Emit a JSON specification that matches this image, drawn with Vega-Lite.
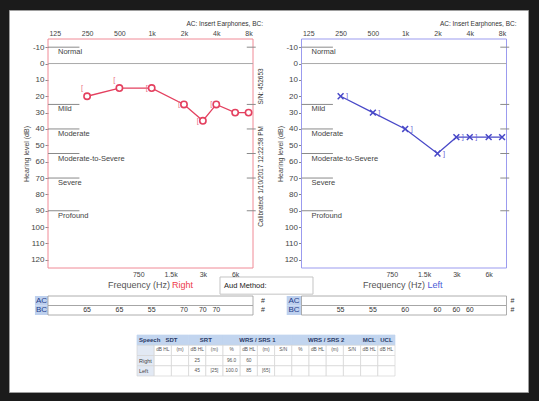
{
  "$schema": "https://vega.github.io/schema/vega-lite/v6.json",
  "width": 519,
  "height": 382,
  "autosize": "none",
  "padding": {"left": 9, "top": 10, "right": 11, "bottom": 9},
  "background": "#1b1b1b",
  "config": {
    "font": "Liberation Sans",
    "view": {"fill": "white", "stroke": "#9e9e9e", "strokeWidth": 1},
    "axis": {
      "grid": false, "domain": false, "labelColor": "#444", "labelFontSize": 7.5,
      "labelOverlap": false, "labelFlush": false, "labelBound": false,
      "titleFontWeight": "normal", "titleColor": "#444", "titleFontSize": 7, "tickColor": "#888"
    }
  },
  "datasets": {
    "ac": [
      {"ear": "Right", "freq": 250, "db": 20}, {"ear": "Right", "freq": 500, "db": 15},
      {"ear": "Right", "freq": 1000, "db": 15}, {"ear": "Right", "freq": 2000, "db": 25},
      {"ear": "Right", "freq": 3000, "db": 35}, {"ear": "Right", "freq": 4000, "db": 25},
      {"ear": "Right", "freq": 6000, "db": 30}, {"ear": "Right", "freq": 8000, "db": 30},
      {"ear": "Left", "freq": 250, "db": 20}, {"ear": "Left", "freq": 500, "db": 30},
      {"ear": "Left", "freq": 1000, "db": 40}, {"ear": "Left", "freq": 2000, "db": 55},
      {"ear": "Left", "freq": 3000, "db": 45}, {"ear": "Left", "freq": 4000, "db": 45},
      {"ear": "Left", "freq": 6000, "db": 45}, {"ear": "Left", "freq": 8000, "db": 45}
    ],
    "bc": [
      {"ear": "Right", "freq": 250, "db": 15}, {"ear": "Right", "freq": 500, "db": 10},
      {"ear": "Right", "freq": 1000, "db": 15}, {"ear": "Right", "freq": 2000, "db": 25},
      {"ear": "Right", "freq": 3000, "db": 35}, {"ear": "Right", "freq": 4000, "db": 25},
      {"ear": "Left", "freq": 250, "db": 20}, {"ear": "Left", "freq": 500, "db": 30},
      {"ear": "Left", "freq": 1000, "db": 40}, {"ear": "Left", "freq": 2000, "db": 55},
      {"ear": "Left", "freq": 3000, "db": 45}, {"ear": "Left", "freq": 4000, "db": 45}
    ],
    "mask": [
      {"ear": "Right", "freq": 250, "level": 65}, {"ear": "Right", "freq": 500, "level": 65},
      {"ear": "Right", "freq": 1000, "level": 55}, {"ear": "Right", "freq": 2000, "level": 70},
      {"ear": "Right", "freq": 3000, "level": 70}, {"ear": "Right", "freq": 4000, "level": 70},
      {"ear": "Left", "freq": 250, "level": 55}, {"ear": "Left", "freq": 500, "level": 55},
      {"ear": "Left", "freq": 1000, "level": 60}, {"ear": "Left", "freq": 2000, "level": 60},
      {"ear": "Left", "freq": 3000, "level": 60}, {"ear": "Left", "freq": 4000, "level": 60}
    ],
    "cat": [
      {"db": -10, "name": "Normal"}, {"db": 25, "name": "Mild"}, {"db": 40, "name": "Moderate"},
      {"db": 55, "name": "Moderate-to-Severe"}, {"db": 70, "name": "Severe"}, {"db": 90, "name": "Profound"}
    ],
    "rows": [{"row": "AC"}, {"row": "BC"}],
    "table": [
      {"row": "Head", "Speech": "", "SDT_db": "", "SDT_m": "", "SRT_db": "", "SRT_m": "", "W1_pct": "", "W1_db": "", "W1_m": "", "W1_sn": "", "W2_pct": "", "W2_db": "", "W2_m": "", "W2_sn": "", "MCL": "", "UCL": ""},
      {"row": "Sub", "Speech": "", "SDT_db": "dB HL", "SDT_m": "(m)", "SRT_db": "dB HL", "SRT_m": "(m)", "W1_pct": "%", "W1_db": "dB HL", "W1_m": "(m)", "W1_sn": "S/N", "W2_pct": "%", "W2_db": "dB HL", "W2_m": "(m)", "W2_sn": "S/N", "MCL": "dB HL", "UCL": "dB HL"},
      {"row": "Right", "Speech": "Right", "SDT_db": "", "SDT_m": "", "SRT_db": "25", "SRT_m": "", "W1_pct": "96.0", "W1_db": "60", "W1_m": "", "W1_sn": "", "W2_pct": "", "W2_db": "", "W2_m": "", "W2_sn": "", "MCL": "", "UCL": ""},
      {"row": "Left", "Speech": "Left", "SDT_db": "", "SDT_m": "", "SRT_db": "45", "SRT_m": "[25]", "W1_pct": "100.0", "W1_db": "85", "W1_m": "[65]", "W1_sn": "", "W2_pct": "", "W2_db": "", "W2_m": "", "W2_sn": "", "MCL": "", "UCL": ""}
    ],
    "heads": [
      {"col": "SDT_m", "label": "SDT"}, {"col": "SRT_m", "label": "SRT"},
      {"col": "W1_m", "label": "WRS / SRS 1"}, {"col": "W2_m", "label": "WRS / SRS 2"},
      {"col": "MCL", "label": "MCL"}, {"col": "UCL", "label": "UCL"}, {"col": "Speech", "label": "Speech"}
    ]
  },
  "resolve": {
    "scale": {"x": "independent", "y": "independent"},
    "axis": {"x": "independent", "y": "independent"}
  },
  "layer": [
    {
      "data": {"values": [{}]},
      "mark": {"type": "rect", "fill": "transparent", "stroke": "#f08a96", "strokeWidth": 1},
      "encoding": {
        "x": {"datum": 108, "type": "quantitative", "scale": {"type": "log", "domain": [108, 8800], "range": [39, 244], "nice": false},
          "axis": {"orient": "top", "offset": -29, "values": [125, 250, 500, 1000, 2000, 4000, 8000], "labelExpr": "datum.value >= 1000 ? (datum.value / 1000) + 'k' : '' + datum.value", "ticks": false, "labelPadding": 3, "labelFontSize": 7, "title": null}},
        "x2": {"datum": 8800},
        "y": {"datum": -15, "type": "quantitative", "scale": {"domain": [-15, 125], "range": [29, 258], "nice": false, "zero": false},
          "axis": {"orient": "left", "offset": -39, "values": [-10, 0, 10, 20, 30, 40, 50, 60, 70, 80, 90, 100, 110, 120], "labelExpr": "'' + datum.value", "tickSize": 3, "labelPadding": 1, "labelFontSize": 8, "title": "Hearing level (dB)", "titlePadding": 1}},
        "y2": {"datum": 125}
      }
    },
    {
      "data": {"values": [{}]},
      "mark": {"type": "rule", "color": "#aaaaaa", "strokeWidth": 1},
      "encoding": {
        "x": {"datum": 108, "type": "quantitative", "scale": {"type": "log", "domain": [108, 8800], "range": [39, 244], "nice": false}, "axis": null},
        "x2": {"datum": 8800},
        "y": {"datum": 0, "type": "quantitative", "scale": {"domain": [-15, 125], "range": [29, 258], "nice": false, "zero": false}, "axis": null}
      }
    },
    {
      "data": {"name": "cat"},
      "mark": {"type": "rule", "color": "#8a8a8a", "strokeWidth": 1},
      "encoding": {
        "x": {"datum": 108, "type": "quantitative", "scale": {"type": "log", "domain": [108, 8800], "range": [39, 244], "nice": false}, "axis": null},
        "x2": {"datum": 212},
        "y": {"field": "db", "type": "quantitative", "scale": {"domain": [-15, 125], "range": [29, 258], "nice": false, "zero": false}, "axis": null}
      }
    },
    {
      "data": {"name": "cat"},
      "mark": {"type": "rule", "color": "#8a8a8a", "strokeWidth": 1},
      "encoding": {
        "x": {"datum": 7700, "type": "quantitative", "scale": {"type": "log", "domain": [108, 8800], "range": [39, 244], "nice": false}, "axis": null},
        "x2": {"datum": 9330},
        "y": {"field": "db", "type": "quantitative", "scale": {"domain": [-15, 125], "range": [29, 258], "nice": false, "zero": false}, "axis": null}
      }
    },
    {
      "data": {"name": "cat"},
      "mark": {"type": "text", "align": "left", "baseline": "middle", "dx": 10, "dy": 5, "fontSize": 7.5, "color": "#444"},
      "encoding": {
        "x": {"datum": 108, "type": "quantitative", "scale": {"type": "log", "domain": [108, 8800], "range": [39, 244], "nice": false}, "axis": null},
        "y": {"field": "db", "type": "quantitative", "scale": {"domain": [-15, 125], "range": [29, 258], "nice": false, "zero": false}, "axis": null},
        "text": {"field": "name"}
      }
    },
    {
      "data": {"name": "ac"},
      "transform": [{"filter": "datum.ear === 'Right'"}],
      "mark": {"type": "line", "color": "#e4405f", "strokeWidth": 1.3},
      "encoding": {
        "x": {"field": "freq", "type": "quantitative", "scale": {"type": "log", "domain": [108, 8800], "range": [39, 244], "nice": false},
          "axis": {"orient": "bottom", "offset": -124, "values": [750, 1500, 3000, 6000], "labelExpr": "datum.value >= 1000 ? (datum.value / 1000) + 'k' : '' + datum.value", "ticks": false, "labelPadding": 2, "labelFontSize": 7, "title": null, "zindex": 2}},
        "y": {"field": "db", "type": "quantitative", "scale": {"domain": [-15, 125], "range": [29, 258], "nice": false, "zero": false}, "axis": null}
      }
    },
    {
      "data": {"name": "ac"},
      "transform": [{"filter": "datum.ear === 'Right'"}],
      "mark": {"type": "point", "shape": "circle", "size": 40, "filled": true, "fill": "white", "stroke": "#e4405f", "strokeWidth": 1.6, "opacity": 1},
      "encoding": {
        "x": {"field": "freq", "type": "quantitative", "scale": {"type": "log", "domain": [108, 8800], "range": [39, 244], "nice": false}, "axis": null},
        "y": {"field": "db", "type": "quantitative", "scale": {"domain": [-15, 125], "range": [29, 258], "nice": false, "zero": false}, "axis": null}
      }
    },
    {
      "data": {"name": "bc"},
      "transform": [{"filter": "datum.ear === 'Right'"}],
      "mark": {"type": "text", "text": "[", "dx": -5, "fontSize": 7.5, "baseline": "middle", "color": "#ec6f86"},
      "encoding": {
        "x": {"field": "freq", "type": "quantitative", "scale": {"type": "log", "domain": [108, 8800], "range": [39, 244], "nice": false}, "axis": null},
        "y": {"field": "db", "type": "quantitative", "scale": {"domain": [-15, 125], "range": [29, 258], "nice": false, "zero": false}, "axis": null}
      }
    },
    {
      "data": {"values": [{}]},
      "mark": {"type": "text", "text": "AC: Insert Earphones, BC:", "align": "right", "baseline": "middle", "fontSize": 6.5, "color": "#333"},
      "encoding": {
        "x": {"datum": 10900, "type": "quantitative", "scale": {"type": "log", "domain": [108, 8800], "range": [39, 244], "nice": false}, "axis": null},
        "y": {"datum": -24, "type": "quantitative", "scale": {"domain": [-15, 125], "range": [29, 258], "nice": false, "zero": false}, "axis": null}
      }
    },
    {
      "data": {"values": [{}]},
      "mark": {"type": "text", "text": "S/N: 452653", "angle": 270, "align": "center", "baseline": "middle", "fontSize": 6.5, "color": "#333"},
      "encoding": {
        "x": {"datum": 10400, "type": "quantitative", "scale": {"type": "log", "domain": [108, 8800], "range": [39, 244], "nice": false}, "axis": null},
        "y": {"datum": 14, "type": "quantitative", "scale": {"domain": [-15, 125], "range": [29, 258], "nice": false, "zero": false}, "axis": null}
      }
    },
    {
      "data": {"values": [{}]},
      "mark": {"type": "text", "text": "Calibrated: 1/10/2017 12:22:58 PM", "angle": 270, "align": "center", "baseline": "middle", "fontSize": 6.5, "color": "#333"},
      "encoding": {
        "x": {"datum": 10400, "type": "quantitative", "scale": {"type": "log", "domain": [108, 8800], "range": [39, 244], "nice": false}, "axis": null},
        "y": {"datum": 69, "type": "quantitative", "scale": {"domain": [-15, 125], "range": [29, 258], "nice": false, "zero": false}, "axis": null}
      }
    },
    {
      "data": {"values": [{}]},
      "mark": {"type": "text", "text": "Frequency (Hz)", "align": "right", "baseline": "middle", "dx": 19.5, "fontSize": 9, "color": "#555"},
      "encoding": {
        "x": {"datum": 975, "type": "quantitative", "scale": {"type": "log", "domain": [108, 8800], "range": [39, 244], "nice": false}, "axis": null},
        "y": {"datum": 135.4, "type": "quantitative", "scale": {"domain": [-15, 125], "range": [29, 258], "nice": false, "zero": false}, "axis": null}
      }
    },
    {
      "data": {"values": [{}]},
      "mark": {"type": "text", "text": "Right", "align": "left", "baseline": "middle", "dx": 21.5, "fontSize": 9, "color": "#ee3a4a"},
      "encoding": {
        "x": {"datum": 975, "type": "quantitative", "scale": {"type": "log", "domain": [108, 8800], "range": [39, 244], "nice": false}, "axis": null},
        "y": {"datum": 135.4, "type": "quantitative", "scale": {"domain": [-15, 125], "range": [29, 258], "nice": false, "zero": false}, "axis": null}
      }
    },
    {
      "data": {"name": "rows"},
      "mark": {"type": "rect", "fill": "#bdd0ee"},
      "encoding": {
        "x": {"datum": 81.6, "type": "quantitative", "scale": {"type": "log", "domain": [108, 8800], "range": [39, 244], "nice": false}, "axis": null},
        "x2": {"datum": 108},
        "y": {"field": "row", "type": "nominal", "scale": {"type": "band", "domain": ["AC", "BC"], "range": [286, 305], "paddingInner": 0, "paddingOuter": 0}, "axis": null}
      }
    },
    {
      "data": {"name": "rows"},
      "mark": {"type": "text", "baseline": "middle", "fontSize": 8, "color": "#1f3d8a"},
      "encoding": {
        "x": {"datum": 94, "type": "quantitative", "scale": {"type": "log", "domain": [108, 8800], "range": [39, 244], "nice": false}, "axis": null},
        "y": {"field": "row", "type": "nominal", "scale": {"type": "band", "domain": ["AC", "BC"], "range": [286, 305], "paddingInner": 0, "paddingOuter": 0}, "axis": null},
        "text": {"field": "row"}
      }
    },
    {
      "data": {"name": "rows"},
      "mark": {"type": "rect", "fill": "white", "stroke": "#999", "strokeWidth": 0.8},
      "encoding": {
        "x": {"datum": 108, "type": "quantitative", "scale": {"type": "log", "domain": [108, 8800], "range": [39, 244], "nice": false}, "axis": null},
        "x2": {"datum": 8800},
        "y": {"field": "row", "type": "nominal", "scale": {"type": "band", "domain": ["AC", "BC"], "range": [286, 305], "paddingInner": 0, "paddingOuter": 0}, "axis": null}
      }
    },
    {
      "data": {"name": "rows"},
      "mark": {"type": "text", "text": "#", "baseline": "middle", "fontSize": 7, "color": "#333"},
      "encoding": {
        "x": {"datum": 10900, "type": "quantitative", "scale": {"type": "log", "domain": [108, 8800], "range": [39, 244], "nice": false}, "axis": null},
        "y": {"field": "row", "type": "nominal", "scale": {"type": "band", "domain": ["AC", "BC"], "range": [286, 305], "paddingInner": 0, "paddingOuter": 0}, "axis": null}
      }
    },
    {
      "data": {"name": "mask"},
      "transform": [{"filter": "datum.ear === 'Right'"}],
      "mark": {"type": "text", "baseline": "middle", "fontSize": 7, "color": "#333"},
      "encoding": {
        "x": {"field": "freq", "type": "quantitative", "scale": {"type": "log", "domain": [108, 8800], "range": [39, 244], "nice": false}, "axis": null},
        "y": {"datum": "BC", "type": "nominal", "scale": {"type": "band", "domain": ["AC", "BC"], "range": [286, 305], "paddingInner": 0, "paddingOuter": 0}, "axis": null},
        "text": {"field": "level"}
      }
    },
    {
      "data": {"values": [{}]},
      "mark": {"type": "rect", "fill": "transparent", "stroke": "#9b9bef", "strokeWidth": 1},
      "encoding": {
        "x": {"datum": 108, "type": "quantitative", "scale": {"type": "log", "domain": [108, 8800], "range": [292.5, 497.5], "nice": false},
          "axis": {"orient": "top", "offset": -29, "values": [125, 250, 500, 1000, 2000, 4000, 8000], "labelExpr": "datum.value >= 1000 ? (datum.value / 1000) + 'k' : '' + datum.value", "ticks": false, "labelPadding": 3, "labelFontSize": 7, "title": null}},
        "x2": {"datum": 8800},
        "y": {"datum": -15, "type": "quantitative", "scale": {"domain": [-15, 125], "range": [29, 258], "nice": false, "zero": false},
          "axis": {"orient": "left", "offset": -292.5, "values": [-10, 0, 10, 20, 30, 40, 50, 60, 70, 80, 90, 100, 110, 120], "labelExpr": "'' + datum.value", "tickSize": 3, "labelPadding": 1, "labelFontSize": 8, "title": "Hearing level (dB)", "titlePadding": 1}},
        "y2": {"datum": 125}
      }
    },
    {
      "data": {"values": [{}]},
      "mark": {"type": "rule", "color": "#aaaaaa", "strokeWidth": 1},
      "encoding": {
        "x": {"datum": 108, "type": "quantitative", "scale": {"type": "log", "domain": [108, 8800], "range": [292.5, 497.5], "nice": false}, "axis": null},
        "x2": {"datum": 8800},
        "y": {"datum": 0, "type": "quantitative", "scale": {"domain": [-15, 125], "range": [29, 258], "nice": false, "zero": false}, "axis": null}
      }
    },
    {
      "data": {"name": "cat"},
      "mark": {"type": "rule", "color": "#8a8a8a", "strokeWidth": 1},
      "encoding": {
        "x": {"datum": 108, "type": "quantitative", "scale": {"type": "log", "domain": [108, 8800], "range": [292.5, 497.5], "nice": false}, "axis": null},
        "x2": {"datum": 212},
        "y": {"field": "db", "type": "quantitative", "scale": {"domain": [-15, 125], "range": [29, 258], "nice": false, "zero": false}, "axis": null}
      }
    },
    {
      "data": {"name": "cat"},
      "mark": {"type": "rule", "color": "#8a8a8a", "strokeWidth": 1},
      "encoding": {
        "x": {"datum": 7700, "type": "quantitative", "scale": {"type": "log", "domain": [108, 8800], "range": [292.5, 497.5], "nice": false}, "axis": null},
        "x2": {"datum": 9330},
        "y": {"field": "db", "type": "quantitative", "scale": {"domain": [-15, 125], "range": [29, 258], "nice": false, "zero": false}, "axis": null}
      }
    },
    {
      "data": {"name": "cat"},
      "mark": {"type": "text", "align": "left", "baseline": "middle", "dx": 10, "dy": 5, "fontSize": 7.5, "color": "#444"},
      "encoding": {
        "x": {"datum": 108, "type": "quantitative", "scale": {"type": "log", "domain": [108, 8800], "range": [292.5, 497.5], "nice": false}, "axis": null},
        "y": {"field": "db", "type": "quantitative", "scale": {"domain": [-15, 125], "range": [29, 258], "nice": false, "zero": false}, "axis": null},
        "text": {"field": "name"}
      }
    },
    {
      "data": {"name": "ac"},
      "transform": [{"filter": "datum.ear === 'Left'"}],
      "mark": {"type": "line", "color": "#4848c8", "strokeWidth": 1.3},
      "encoding": {
        "x": {"field": "freq", "type": "quantitative", "scale": {"type": "log", "domain": [108, 8800], "range": [292.5, 497.5], "nice": false},
          "axis": {"orient": "bottom", "offset": -124, "values": [750, 1500, 3000, 6000], "labelExpr": "datum.value >= 1000 ? (datum.value / 1000) + 'k' : '' + datum.value", "ticks": false, "labelPadding": 2, "labelFontSize": 7, "title": null}},
        "y": {"field": "db", "type": "quantitative", "scale": {"domain": [-15, 125], "range": [29, 258], "nice": false, "zero": false}, "axis": null}
      }
    },
    {
      "data": {"name": "ac"},
      "transform": [{"filter": "datum.ear === 'Left'"}],
      "mark": {"type": "point", "shape": "M-1,-1L1,1M1,-1L-1,1", "size": 34, "filled": false, "stroke": "#4848c8", "strokeWidth": 1.5, "opacity": 1},
      "encoding": {
        "x": {"field": "freq", "type": "quantitative", "scale": {"type": "log", "domain": [108, 8800], "range": [292.5, 497.5], "nice": false}, "axis": null},
        "y": {"field": "db", "type": "quantitative", "scale": {"domain": [-15, 125], "range": [29, 258], "nice": false, "zero": false}, "axis": null}
      }
    },
    {
      "data": {"name": "bc"},
      "transform": [{"filter": "datum.ear === 'Left'"}],
      "mark": {"type": "text", "text": "]", "dx": 6.5, "fontSize": 7.5, "baseline": "middle", "color": "#6a6ad6"},
      "encoding": {
        "x": {"field": "freq", "type": "quantitative", "scale": {"type": "log", "domain": [108, 8800], "range": [292.5, 497.5], "nice": false}, "axis": null},
        "y": {"field": "db", "type": "quantitative", "scale": {"domain": [-15, 125], "range": [29, 258], "nice": false, "zero": false}, "axis": null}
      }
    },
    {
      "data": {"values": [{}]},
      "mark": {"type": "text", "text": "AC: Insert Earphones, BC:", "align": "right", "baseline": "middle", "fontSize": 6.5, "color": "#333"},
      "encoding": {
        "x": {"datum": 10900, "type": "quantitative", "scale": {"type": "log", "domain": [108, 8800], "range": [292.5, 497.5], "nice": false}, "axis": null},
        "y": {"datum": -24, "type": "quantitative", "scale": {"domain": [-15, 125], "range": [29, 258], "nice": false, "zero": false}, "axis": null}
      }
    },
    {
      "data": {"values": [{}]},
      "mark": {"type": "text", "text": "Frequency (Hz)", "align": "right", "baseline": "middle", "dx": 21, "fontSize": 9, "color": "#555"},
      "encoding": {
        "x": {"datum": 975, "type": "quantitative", "scale": {"type": "log", "domain": [108, 8800], "range": [292.5, 497.5], "nice": false}, "axis": null},
        "y": {"datum": 135.4, "type": "quantitative", "scale": {"domain": [-15, 125], "range": [29, 258], "nice": false, "zero": false}, "axis": null}
      }
    },
    {
      "data": {"values": [{}]},
      "mark": {"type": "text", "text": "Left", "align": "left", "baseline": "middle", "dx": 23.5, "fontSize": 9, "color": "#4a5bd6"},
      "encoding": {
        "x": {"datum": 975, "type": "quantitative", "scale": {"type": "log", "domain": [108, 8800], "range": [292.5, 497.5], "nice": false}, "axis": null},
        "y": {"datum": 135.4, "type": "quantitative", "scale": {"domain": [-15, 125], "range": [29, 258], "nice": false, "zero": false}, "axis": null}
      }
    },
    {
      "data": {"name": "rows"},
      "mark": {"type": "rect", "fill": "#bdd0ee"},
      "encoding": {
        "x": {"datum": 78.6, "type": "quantitative", "scale": {"type": "log", "domain": [108, 8800], "range": [292.5, 497.5], "nice": false}, "axis": null},
        "x2": {"datum": 108},
        "y": {"field": "row", "type": "nominal", "scale": {"type": "band", "domain": ["AC", "BC"], "range": [286, 305], "paddingInner": 0, "paddingOuter": 0}, "axis": null}
      }
    },
    {
      "data": {"name": "rows"},
      "mark": {"type": "text", "baseline": "middle", "fontSize": 8, "color": "#1f3d8a"},
      "encoding": {
        "x": {"datum": 92, "type": "quantitative", "scale": {"type": "log", "domain": [108, 8800], "range": [292.5, 497.5], "nice": false}, "axis": null},
        "y": {"field": "row", "type": "nominal", "scale": {"type": "band", "domain": ["AC", "BC"], "range": [286, 305], "paddingInner": 0, "paddingOuter": 0}, "axis": null},
        "text": {"field": "row"}
      }
    },
    {
      "data": {"name": "rows"},
      "mark": {"type": "rect", "fill": "white", "stroke": "#999", "strokeWidth": 0.8},
      "encoding": {
        "x": {"datum": 108, "type": "quantitative", "scale": {"type": "log", "domain": [108, 8800], "range": [292.5, 497.5], "nice": false}, "axis": null},
        "x2": {"datum": 8800},
        "y": {"field": "row", "type": "nominal", "scale": {"type": "band", "domain": ["AC", "BC"], "range": [286, 305], "paddingInner": 0, "paddingOuter": 0}, "axis": null}
      }
    },
    {
      "data": {"name": "rows"},
      "mark": {"type": "text", "text": "#", "baseline": "middle", "fontSize": 7, "color": "#333"},
      "encoding": {
        "x": {"datum": 10000, "type": "quantitative", "scale": {"type": "log", "domain": [108, 8800], "range": [292.5, 497.5], "nice": false}, "axis": null},
        "y": {"field": "row", "type": "nominal", "scale": {"type": "band", "domain": ["AC", "BC"], "range": [286, 305], "paddingInner": 0, "paddingOuter": 0}, "axis": null}
      }
    },
    {
      "data": {"name": "mask"},
      "transform": [{"filter": "datum.ear === 'Left'"}],
      "mark": {"type": "text", "baseline": "middle", "fontSize": 7, "color": "#333"},
      "encoding": {
        "x": {"field": "freq", "type": "quantitative", "scale": {"type": "log", "domain": [108, 8800], "range": [292.5, 497.5], "nice": false}, "axis": null},
        "y": {"datum": "BC", "type": "nominal", "scale": {"type": "band", "domain": ["AC", "BC"], "range": [286, 305], "paddingInner": 0, "paddingOuter": 0}, "axis": null},
        "text": {"field": "level"}
      }
    },
    {
      "data": {"values": [{}]},
      "mark": {"type": "rect", "fill": "white", "stroke": "#c4c4c4", "strokeWidth": 1},
      "encoding": {
        "x": {"datum": 4333, "type": "quantitative", "scale": {"type": "log", "domain": [108, 8800], "range": [39, 244], "nice": false}, "axis": null},
        "x2": {"datum": 31900},
        "y": {"datum": 130.5, "type": "quantitative", "scale": {"domain": [-15, 125], "range": [29, 258], "nice": false, "zero": false}, "axis": null},
        "y2": {"datum": 141}
      }
    },
    {
      "data": {"values": [{}]},
      "mark": {"type": "text", "text": "Aud Method:", "align": "left", "baseline": "middle", "dx": 4, "fontSize": 7.5, "color": "#222"},
      "encoding": {
        "x": {"datum": 4333, "type": "quantitative", "scale": {"type": "log", "domain": [108, 8800], "range": [39, 244], "nice": false}, "axis": null},
        "y": {"datum": 136, "type": "quantitative", "scale": {"domain": [-15, 125], "range": [29, 258], "nice": false, "zero": false}, "axis": null}
      }
    },
    {
      "data": {"name": "table"},
      "transform": [{"fold": ["Speech", "SDT_db", "SDT_m", "SRT_db", "SRT_m", "W1_pct", "W1_db", "W1_m", "W1_sn", "W2_pct", "W2_db", "W2_m", "W2_sn", "MCL", "UCL"], "as": ["col", "text"]}],
      "mark": {"type": "rect", "strokeWidth": 0.7},
      "encoding": {
        "x": {"field": "col", "type": "nominal", "scale": {"type": "band", "domain": ["Speech", "SDT_db", "SDT_m", "SRT_db", "SRT_m", "W1_pct", "W1_db", "W1_m", "W1_sn", "W2_pct", "W2_db", "W2_m", "W2_sn", "MCL", "UCL"], "range": [128, 386], "paddingInner": 0, "paddingOuter": 0}, "axis": null},
        "y": {"field": "row", "type": "nominal", "scale": {"type": "band", "domain": ["Head", "Sub", "Right", "Left"], "range": [325, 366], "paddingInner": 0, "paddingOuter": 0}, "axis": null},
        "fill": {"condition": [{"test": "datum.row === 'Head'", "value": "#c2d5ef"}, {"test": "datum.col === 'Speech'", "value": "#e2e9f4"}], "value": "#ffffff"},
        "stroke": {"condition": {"test": "datum.row === 'Head'", "value": "#c2d5ef"}, "value": "#d4d4d4"}
      }
    },
    {
      "data": {"name": "table"},
      "transform": [
        {"fold": ["Speech", "SDT_db", "SDT_m", "SRT_db", "SRT_m", "W1_pct", "W1_db", "W1_m", "W1_sn", "W2_pct", "W2_db", "W2_m", "W2_sn", "MCL", "UCL"], "as": ["col", "text"]},
        {"filter": "datum.col !== 'Speech' && datum.text !== ''"}
      ],
      "mark": {"type": "text", "baseline": "middle", "fontSize": 4.8, "color": "#555"},
      "encoding": {
        "x": {"field": "col", "type": "nominal", "scale": {"type": "band", "domain": ["Speech", "SDT_db", "SDT_m", "SRT_db", "SRT_m", "W1_pct", "W1_db", "W1_m", "W1_sn", "W2_pct", "W2_db", "W2_m", "W2_sn", "MCL", "UCL"], "range": [128, 386], "paddingInner": 0, "paddingOuter": 0}, "axis": null},
        "y": {"field": "row", "type": "nominal", "scale": {"type": "band", "domain": ["Head", "Sub", "Right", "Left"], "range": [325, 366], "paddingInner": 0, "paddingOuter": 0}, "axis": null},
        "text": {"field": "text"}
      }
    },
    {
      "data": {"name": "table"},
      "transform": [
        {"fold": ["Speech"], "as": ["col", "text"]},
        {"filter": "datum.text !== ''"}
      ],
      "mark": {"type": "text", "align": "left", "baseline": "middle", "dx": 2, "fontSize": 5.5, "color": "#444"},
      "encoding": {
        "x": {"field": "col", "type": "nominal", "bandPosition": 0, "scale": {"type": "band", "domain": ["Speech", "SDT_db", "SDT_m", "SRT_db", "SRT_m", "W1_pct", "W1_db", "W1_m", "W1_sn", "W2_pct", "W2_db", "W2_m", "W2_sn", "MCL", "UCL"], "range": [128, 386], "paddingInner": 0, "paddingOuter": 0}, "axis": null},
        "y": {"field": "row", "type": "nominal", "scale": {"type": "band", "domain": ["Head", "Sub", "Right", "Left"], "range": [325, 366], "paddingInner": 0, "paddingOuter": 0}, "axis": null},
        "text": {"field": "text"}
      }
    },
    {
      "data": {"name": "heads"},
      "transform": [{"filter": "indexof(['SDT_m', 'SRT_m', 'W1_m', 'W2_m'], datum.col) >= 0"}],
      "mark": {"type": "text", "baseline": "middle", "fontSize": 6, "fontWeight": "bold", "color": "#2a3a66"},
      "encoding": {
        "x": {"field": "col", "type": "nominal", "bandPosition": 0, "scale": {"type": "band", "domain": ["Speech", "SDT_db", "SDT_m", "SRT_db", "SRT_m", "W1_pct", "W1_db", "W1_m", "W1_sn", "W2_pct", "W2_db", "W2_m", "W2_sn", "MCL", "UCL"], "range": [128, 386], "paddingInner": 0, "paddingOuter": 0}, "axis": null},
        "y": {"datum": "Head", "type": "nominal", "scale": {"type": "band", "domain": ["Head", "Sub", "Right", "Left"], "range": [325, 366], "paddingInner": 0, "paddingOuter": 0}, "axis": null},
        "text": {"field": "label"}
      }
    },
    {
      "data": {"name": "heads"},
      "transform": [{"filter": "datum.col === 'MCL' || datum.col === 'UCL'"}],
      "mark": {"type": "text", "baseline": "middle", "fontSize": 6, "fontWeight": "bold", "color": "#2a3a66"},
      "encoding": {
        "x": {"field": "col", "type": "nominal", "scale": {"type": "band", "domain": ["Speech", "SDT_db", "SDT_m", "SRT_db", "SRT_m", "W1_pct", "W1_db", "W1_m", "W1_sn", "W2_pct", "W2_db", "W2_m", "W2_sn", "MCL", "UCL"], "range": [128, 386], "paddingInner": 0, "paddingOuter": 0}, "axis": null},
        "y": {"datum": "Head", "type": "nominal", "scale": {"type": "band", "domain": ["Head", "Sub", "Right", "Left"], "range": [325, 366], "paddingInner": 0, "paddingOuter": 0}, "axis": null},
        "text": {"field": "label"}
      }
    },
    {
      "data": {"name": "heads"},
      "transform": [{"filter": "datum.col === 'Speech'"}],
      "mark": {"type": "text", "align": "left", "baseline": "middle", "dx": 2, "fontSize": 6, "fontWeight": "bold", "color": "#2a3a66"},
      "encoding": {
        "x": {"field": "col", "type": "nominal", "bandPosition": 0, "scale": {"type": "band", "domain": ["Speech", "SDT_db", "SDT_m", "SRT_db", "SRT_m", "W1_pct", "W1_db", "W1_m", "W1_sn", "W2_pct", "W2_db", "W2_m", "W2_sn", "MCL", "UCL"], "range": [128, 386], "paddingInner": 0, "paddingOuter": 0}, "axis": null},
        "y": {"datum": "Head", "type": "nominal", "scale": {"type": "band", "domain": ["Head", "Sub", "Right", "Left"], "range": [325, 366], "paddingInner": 0, "paddingOuter": 0}, "axis": null},
        "text": {"field": "label"}
      }
    }
  ]
}
